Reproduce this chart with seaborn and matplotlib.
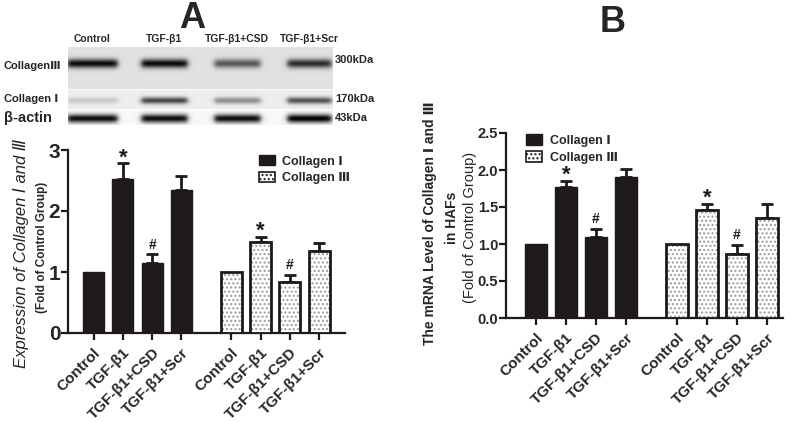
import numpy as np
import pandas as pd
import matplotlib
matplotlib.use("Agg")
import matplotlib.pyplot as plt
from matplotlib.patches import Patch, Rectangle
import seaborn as sns

# Groups and series
groups = ["Control", "TGF-β1", "TGF-β1+CSD", "TGF-β1+Scr"]
collagens = ["Collagen Ⅰ", "Collagen Ⅲ"]
marks = ["", "*", "#", ""]

# Panel A: western blot quantification (fold of control)
a_col1 = [1.0, 2.53, 1.15, 2.34]
a_col1_err = [0.0, 0.25, 0.14, 0.23]
a_col3 = [1.0, 1.49, 0.84, 1.35]
a_col3_err = [0.0, 0.08, 0.11, 0.12]

# Panel B: mRNA level in HAFs (fold of control)
b_col1 = [1.0, 1.77, 1.09, 1.90]
b_col1_err = [0.0, 0.08, 0.11, 0.12]
b_col3 = [1.0, 1.46, 0.86, 1.35]
b_col3_err = [0.0, 0.08, 0.13, 0.19]

# Blot band darkness per lane (0 = no band, 1 = black)
blot_rows = ["CollagenⅢ", "Collagen Ⅰ", "β-actin"]
blot_kda = ["300kDa", "170kDa", "43kDa"]
band_col3 = [0.95, 0.95, 0.6, 0.8]
band_col1 = [0.15, 0.7, 0.4, 0.65]
band_actin = [0.95, 0.95, 0.95, 1.0]

DARK = "#1f1a19"
W, H = 799, 422

sns.set_style("ticks")
plt.rcParams["font.family"] = ["Liberation Sans", "DejaVu Sans", "Noto Sans CJK SC"]
plt.rcParams["hatch.linewidth"] = 1.0

fig = plt.figure(figsize=(W / 100, H / 100), dpi=100)


def fig_box(left, top, right, bottom):
    return [left / W, 1 - bottom / H, (right - left) / W, (bottom - top) / H]


def draw_panel(ax, col1, col1_err, col3, col3_err, xlim, ylim, yticks, fmt, ysize):
    pos = list(range(4)) + [i + 4.7 for i in range(4)]
    df = pd.DataFrame({
        "pos": pos,
        "value": col1 + col3,
        "err": col1_err + col3_err,
        "type": [collagens[0]] * 4 + [collagens[1]] * 4,
    })
    sns.barplot(data=df, x="pos", y="value", hue="type", native_scale=True, dodge=False,
                width=0.72, palette=[DARK, "white"], errorbar=None, legend=False,
                ax=ax, zorder=3)
    bars = list(ax.patches)
    for p in bars[:4]:
        p.set_edgecolor(DARK)
        p.set_linewidth(1)
    for p in bars[4:]:
        p.set_facecolor("white")
        p.set_edgecolor("#9a9a9a")
        p.set_hatch("....")
        p.set_linewidth(0)
        ax.add_patch(Rectangle(p.get_xy(), p.get_width(), p.get_height(), fill=False,
                               edgecolor=DARK, linewidth=2, zorder=4))
    has_err = df[df["err"] > 0]
    ax.errorbar(has_err["pos"], has_err["value"],
                yerr=[np.zeros(len(has_err)), has_err["err"]], fmt="none",
                ecolor=DARK, elinewidth=2, capsize=4.5, capthick=2, zorder=2)
    for i, row in df.iterrows():
        m = marks[i % 4]
        if m == "*":
            ax.annotate(m, (row["pos"], row["value"] + row["err"]), xytext=(0, 4),
                        textcoords="offset points", ha="center", va="center",
                        fontsize=16, fontweight="bold", color=DARK)
        elif m == "#":
            ax.annotate(m, (row["pos"], row["value"] + row["err"]), xytext=(0, 7),
                        textcoords="offset points", ha="center", va="center",
                        fontsize=10, fontweight="bold", color=DARK)
    ax.set_xlim(*xlim)
    ax.set_ylim(*ylim)
    ax.set_yticks(yticks)
    ax.set_yticklabels([fmt.format(t) for t in yticks], fontsize=ysize, fontweight="bold")
    ax.set_xticks(pos)
    ax.set_xticklabels(groups * 2, rotation=45, ha="right", rotation_mode="anchor",
                       fontsize=11, fontweight="bold")
    ax.set_xlabel("")
    ax.set_ylabel("")
    sns.despine(ax=ax)
    for s in ["left", "bottom"]:
        ax.spines[s].set_linewidth(1.6)
        ax.spines[s].set_color(DARK)
    ax.tick_params(direction="out", length=5, width=1.6, color=DARK)
    ax.tick_params(axis="y", pad=0.5)
    ax.tick_params(axis="x", pad=4)


def legend_for(ax, anchor):
    handles = [Patch(facecolor=DARK, edgecolor=DARK),
               Patch(facecolor="white", edgecolor=DARK, hatch="....", linewidth=1.2)]
    ax.legend(handles=handles, labels=collagens, loc="upper left", bbox_to_anchor=anchor,
              frameon=False, handlelength=1.3, handleheight=0.9, handletextpad=0.6,
              labelspacing=0.35, borderaxespad=0, prop={"weight": "bold", "size": 9})


# ---- Panel A: western blot image ----
ax_blot = fig.add_axes(fig_box(68, 47, 333, 125))
bw, bh = 265, 78
xx = np.arange(bw)[None, :]
yy = np.arange(bh)[:, None]
img = np.ones((bh, bw))
img[0:42, :] = 0.88
img[42:43, :] = 0.98
img[43:62, :] = 0.93
img[62:64, :] = 0.99
img[64:, :] = 0.97
lane_c = [24, 96, 169, 241]
lane_w = [50, 46, 46, 44]
row_y = [16, 53, 71]
row_sig = [3.2, 2.4, 3.0]
for r, levels in enumerate([band_col3, band_col1, band_actin]):
    for c, lvl in enumerate(levels):
        h = 0.5 * (np.tanh((xx - (lane_c[c] - lane_w[c] / 2)) / 3) -
                   np.tanh((xx - (lane_c[c] + lane_w[c] / 2)) / 3))
        v = np.exp(-0.5 * ((yy - row_y[r]) / row_sig[r]) ** 2)
        img = img * (1 - lvl * h * v)
ax_blot.imshow(img, cmap="gray", vmin=0, vmax=1, aspect="auto", interpolation="bilinear")
ax_blot.axis("off")

for c, g in enumerate(groups):
    fig.text((68 + lane_c[c]) / W, 1 - 39 / H, g, ha="center", va="center",
             fontsize=7.5, fontweight="bold")
for r, (name, kda) in enumerate(zip(blot_rows, blot_kda)):
    y = [66, 99, 118][r]
    fig.text(4 / W, 1 - y / H, name, ha="left", va="center",
             fontsize=10.5 if r == 2 else 8, fontweight="bold")
    fig.text(335 / W, 1 - [60, 99, 118][r] / H, kda, ha="left", va="center",
             fontsize=8, fontweight="bold")

# ---- Panel A: bar chart ----
ax_a = fig.add_axes(fig_box(68, 150, 345, 333))
draw_panel(ax_a, a_col1, a_col1_err, a_col3, a_col3_err, (-0.87, 8.58), (0, 3),
           [0, 1, 2, 3], "{:.0f}", 15)
legend_for(ax_a, (0.67, 1.0))
fig.text(21 / W, 1 - 253 / H, "Expression of Collagen Ⅰ and Ⅲ", rotation=90,
         ha="center", va="center", fontsize=12, fontstyle="italic")
fig.text(42 / W, 1 - 247 / H, "(Fold of Control Group)", rotation=90,
         ha="center", va="center", fontsize=8.5, fontweight="bold")

# ---- Panel B: mRNA bar chart ----
ax_b = fig.add_axes(fig_box(506, 133, 783, 318))
draw_panel(ax_b, b_col1, b_col1_err, b_col3, b_col3_err, (-1.0, 8.23), (0, 2.5),
           [0, 0.5, 1.0, 1.5, 2.0, 2.5], "{:.1f}", 10.5)
legend_for(ax_b, (0.055, 1.02))
fig.text(430 / W, 1 - 223 / H, "The mRNA Level of Collagen Ⅰ and Ⅲ", rotation=90,
         ha="center", va="center", fontsize=10, fontweight="bold")
fig.text(452 / W, 1 - 218 / H, "in HAFs", rotation=90,
         ha="center", va="center", fontsize=10, fontweight="bold")
fig.text(470 / W, 1 - 227 / H, "(Fold of Control Group)", rotation=90,
         ha="center", va="center", fontsize=10.5)

# panel letters
fig.text(192 / W, 1 - 19 / H, "A", ha="center", va="center", fontsize=26, fontweight="bold")
fig.text(613 / W, 1 - 22 / H, "B", ha="center", va="center", fontsize=26, fontweight="bold")

fig.savefig("out.png", dpi=100, facecolor="white")
